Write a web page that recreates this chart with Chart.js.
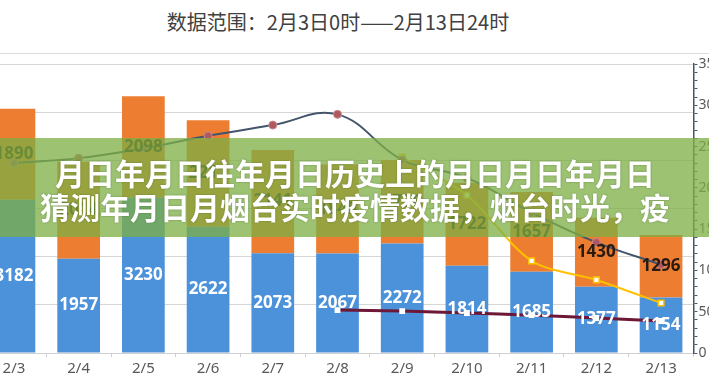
<!DOCTYPE html>
<html>
<head>
<meta charset="utf-8">
<script src="https://cdn.jsdelivr.net/npm/chart.js@4.4.1/dist/chart.umd.min.js"></script>
<style>
    html, body { margin: 0; padding: 0; }
    body { width: 709px; height: 375px; overflow: hidden; position: relative; background: #fff; font-family: "Noto Sans CJK SC", "Noto Sans", sans-serif; }
    #title { position: absolute; top: 8px; left: 0; width: 676px; text-align: center; font-size: 20px; color: #404040; line-height: 28px; }
    #topRule { position: absolute; top: 53px; left: 0; width: 709px; height: 0; border-top: 1px solid #dcdcdc; }
    #chartWrap { position: absolute; left: -40px; top: 0; width: 800px; height: 375px; }
    #banner { position: absolute; left: 0; top: 138px; width: 709px; height: 99px; background: rgba(125, 175, 70, 0.76); }
    #banner div { position: absolute; left: -20px; width: 750px; text-align: center; color: #fff; font-weight: 700; font-size: 30px; line-height: 34px; white-space: nowrap; text-shadow: 0 0 2px rgba(60, 80, 30, 0.5); }
</style>
</head>
<body>
<div id="title">数据范围：2月3日0时——2月13日24时</div>
<div id="topRule"></div>
<div id="chartWrap"><canvas id="mainChart" width="800" height="375"></canvas></div>
<div id="banner">
    <div style="top: 17px;">月日年月日往年月日历史上的月日月日年月日</div>
    <div style="top: 51px;">猜测年月日月烟台实时疫情数据，烟台时光，疫</div>
</div>
<script>
const categories = ['2/3', '2/4', '2/5', '2/6', '2/7', '2/8', '2/9', '2/10', '2/11', '2/12', '2/13'];
const blueValues = [3182, 1957, 3230, 2622, 2073, 2067, 2272, 1814, 1685, 1377, 1154];
const orangeValues = [1890, 2014, 2098, 2211, 2141, 1849, 1736, 1722, 1657, 1430, 1296];
const slateLine = [2300, 2360, 2480, 2630, 2760, 2890, 2340, 2120, 1700, 1340, 1070];
const yellowLine = [null, null, null, null, null, null, 2370, 1910, 1115, 885, 605];
const maroonLine = [null, null, null, null, null, 520, 508, 484, 458, 424, 388];
const leftTicks = [0, 1000, 2000, 3000, 4000, 5000, 6000];
const rightTicks = [0, 500, 1000, 1500, 2000, 2500, 3000, 3500];

Chart.defaults.font.family = '"Noto Sans", "Noto Sans CJK SC", sans-serif';

// values printed in the middle of each bar segment
const barLabels = {
    id: 'barLabels',
    afterDatasetsDraw(chart) {
        const ctx = chart.ctx;
        [0, 1].forEach(i => {
            const meta = chart.getDatasetMeta(i);
            meta.data.forEach((bar, j) => {
                const v = chart.data.datasets[i].data[j];
                ctx.save();
                ctx.font = 'bold 17px "Noto Sans", sans-serif';
                ctx.fillStyle = i === 0 ? '#ffffff' : '#2a1a10';
                ctx.textAlign = 'center';
                ctx.textBaseline = 'middle';
                ctx.fillText(v, bar.x, (bar.y + bar.base) / 2);
                ctx.restore();
            });
        });
    }
};

new Chart(document.getElementById('mainChart'), {
    data: {
        labels: categories,
        datasets: [
            { type: 'bar', data: blueValues, backgroundColor: '#4c92da', yAxisID: 'y', stack: 's', barPercentage: 0.66, categoryPercentage: 1, order: 3 },
            { type: 'bar', data: orangeValues, backgroundColor: '#ed7d31', yAxisID: 'y', stack: 's', barPercentage: 0.66, categoryPercentage: 1, order: 3 },
            { type: 'line', data: slateLine, yAxisID: 'y1', borderColor: '#44546a', borderWidth: 2, tension: 0.4,
              pointRadius: 4, pointBackgroundColor: '#b0585f', pointBorderColor: '#c98a8f', pointBorderWidth: 1, order: 1 },
            { type: 'line', data: yellowLine, yAxisID: 'y1', borderColor: '#ffc000', borderWidth: 2, tension: 0.3,
              pointStyle: 'rect', pointRadius: 4, pointBackgroundColor: '#ffffff', pointBorderColor: '#ffc000', pointBorderWidth: 1.5, order: 1 },
            { type: 'line', data: maroonLine, yAxisID: 'y1', borderColor: '#6e1838', borderWidth: 3, tension: 0.2,
              pointStyle: 'rect', pointRadius: 2, pointBackgroundColor: '#ffffff', pointBorderColor: '#ffffff', order: 1 }
        ]
    },
    options: {
        responsive: false,
        animation: false,
        layout: { padding: { top: 64, left: 0, right: 0, bottom: 0 } },
        plugins: { legend: { display: false }, tooltip: { enabled: false } },
        scales: {
            x: {
                stacked: true,
                grid: { offset: true, drawOnChartArea: false, color: '#cfcfcf', tickLength: 4 },
                border: { color: '#d0d0d0' },
                ticks: { color: '#595959', font: { size: 15 }, padding: 3 },
                afterFit: s => { s.height = 22; }
            },
            y: {
                stacked: true,
                position: 'left',
                min: leftTicks[0],
                max: leftTicks[leftTicks.length - 1],
                ticks: { stepSize: 1000, display: false },
                grid: { color: '#d6d6d6', drawTicks: false },
                border: { display: false },
                afterFit: s => { s.width = 21.6; }
            },
            y1: {
                position: 'right',
                min: rightTicks[0],
                max: rightTicks[rightTicks.length - 1],
                ticks: {
                    stepSize: 100, autoSkip: false, maxTicksLimit: 100,
                    callback: v => (rightTicks.includes(v) ? v : ''),
                    color: '#595959', font: { size: 14 }, padding: 1
                },
                grid: { drawOnChartArea: false, tickLength: 4, color: '#44546a' },
                border: { color: '#44546a', width: 1.5 },
                afterFit: s => { s.width = 66.6; }
            }
        }
    },
    plugins: [barLabels]
});
</script>
</body>
</html>
